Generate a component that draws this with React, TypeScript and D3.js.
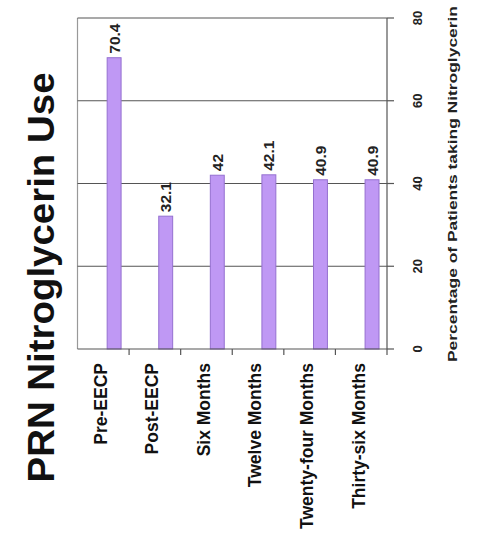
import React from "react";
import * as d3 from "d3";

const categories = ["Pre-EECP", "Post-EECP", "Six Months", "Twelve Months", "Twenty-four Months", "Thirty-six Months"];
const values = [70.4, 32.1, 42, 42.1, 40.9, 40.9];
const valueLabels = ["70.4", "32.1", "42", "42.1", "40.9", "40.9"];
const yTicks = [0, 20, 40, 60, 80];
const titleText = "PRN Nitroglycerin Use";
const axisTitle = "Percentage of Patients taking Nitroglycerin";

export default function App() {
  const W = 477, H = 538;
  const left = 77.5, right = 387, top = 18, bottom = 349;
  const x = d3.scaleBand<string>().domain(categories).range([left, right]).padding(0);
  const y = d3.scaleLinear().domain([0, 80]).range([bottom, top]);
  const bw = x.bandwidth();
  const font = "'Liberation Sans', Arial, sans-serif";
  const gridColor = "#555";
  return (
    <svg width={W} height={H} style={{ position: "absolute", left: 0, top: 0, background: "#fff" }} fontFamily={font}>
      <rect x={0} y={0} width={W} height={H} fill="#fff" />
      {/* title */}
      <text transform={`translate(54,277.5) rotate(-90)`} textAnchor="middle" fontSize={37} fontWeight="bold" fill="#111" textLength={410} lengthAdjust="spacingAndGlyphs">{titleText}</text>
      {/* left frame */}
      <line x1={left} x2={left} y1={top} y2={bottom} stroke="#999" strokeWidth={1.2} />
      {/* gridlines */}
      {yTicks.filter(t => t > 0).map(t => (
        <line key={t} x1={left} x2={right} y1={y(t)} y2={y(t)} stroke={gridColor} strokeWidth={1.2} />
      ))}
      {/* bars */}
      {categories.map((c, i) => {
        const bx = (x(c) as number) + 0.575 * bw;
        const w = 0.27 * bw;
        return (
          <g key={c}>
            <rect x={bx} y={y(values[i])} width={w} height={y(0) - y(values[i])} fill="#bf98f4" stroke="#9570d0" strokeWidth={1} />
            <text transform={`translate(${bx + w / 2},${y(values[i]) - 4}) rotate(-90)`} dy="0.36em" textAnchor="start" fontSize={15.5} fontWeight="bold" fill="#222">{valueLabels[i]}</text>
          </g>
        );
      })}
      {/* bottom axis */}
      <line x1={left} x2={right} y1={bottom} y2={bottom} stroke={gridColor} strokeWidth={1.2} />
      {categories.map(c => (
        <line key={"t" + c} x1={(x(c) as number) + bw} x2={(x(c) as number) + bw} y1={bottom} y2={bottom + 6} stroke={gridColor} strokeWidth={1.2} />
      ))}
      {categories.map(c => (
        <text key={"l" + c} transform={`translate(${(x(c) as number) + bw / 2 - 3},363) rotate(-90)`} dy="0.36em" textAnchor="end" fontSize={17.5} fontWeight="bold" fill="#111">{c}</text>
      ))}
      {/* right value axis */}
      <line x1={right} x2={right} y1={top} y2={bottom} stroke={gridColor} strokeWidth={1.2} />
      {yTicks.map(t => (
        <g key={"y" + t}>
          <line x1={right} x2={right + 7} y1={y(t)} y2={y(t)} stroke={gridColor} strokeWidth={1.2} />
          <text transform={`translate(417,${y(t)}) rotate(-90)`} dy="0.36em" textAnchor="middle" fontSize={13} fontWeight="bold" fill="#222">{t}</text>
        </g>
      ))}
      <text transform={`translate(452,184) rotate(-90)`} dy="0.36em" textAnchor="middle" fontSize={13.5} fontWeight="bold" fill="#222" textLength={356} lengthAdjust="spacingAndGlyphs">{axisTitle}</text>
    </svg>
  );
}
